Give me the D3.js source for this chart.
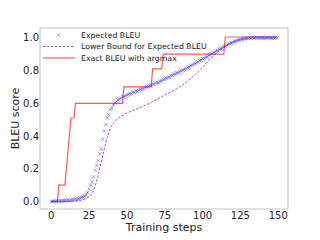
<!DOCTYPE html>
<html><head><meta charset="utf-8">
<script src="https://cdn.jsdelivr.net/npm/d3@7"></script>
<style>body{margin:0;background:#fff}svg{display:block}text{font-family:"DejaVu Sans",sans-serif;fill:#222}</style>
</head><body>
<svg id="c" width="320" height="240"></svg>
<script>
// Expected BLEU, one value per training step 0..149
const expectedBleu = [
0.000,0.000,0.002,0.000,0.003,0.001,0.004,0.002,0.005,0.004,
0.006,0.008,0.006,0.009,0.010,0.011,0.014,0.012,0.018,0.020,
0.024,0.028,0.032,0.040,0.055,0.075,0.100,0.120,0.150,0.190,
0.220,0.250,0.290,0.320,0.380,0.430,0.470,0.510,0.530,0.560,
0.570,0.590,0.600,0.610,0.620,0.625,0.630,0.640,0.640,0.645,
0.650,0.655,0.660,0.658,0.667,0.668,0.675,0.672,0.683,0.684,
0.690,0.688,0.698,0.700,0.703,0.710,0.708,0.718,0.716,0.724,
0.728,0.727,0.736,0.737,0.746,0.748,0.752,0.758,0.760,0.770,
0.770,0.778,0.779,0.786,0.788,0.795,0.798,0.803,0.808,0.811,
0.820,0.822,0.830,0.833,0.840,0.843,0.850,0.852,0.862,0.864,
0.872,0.874,0.882,0.884,0.893,0.896,0.902,0.908,0.912,0.920,
0.922,0.930,0.935,0.938,0.946,0.948,0.955,0.958,0.964,0.968,
0.972,0.977,0.979,0.985,0.986,0.990,0.991,0.995,0.994,0.998,
0.997,1.001,0.998,1.002,0.999,1.000,1.003,0.998,1.001,0.999,
1.002,0.998,1.000,1.002,0.999,1.001,0.998,1.002,1.000,0.999
];
// Lower bound for expected BLEU
const lbSteps = [0,5,10,15,20,22,24,26,27,28,29,30,31,32,33,34,35,36,37,38,39,40,42,44,46,48,50,55,60,65,70,75,80,85,90,95,100,105,110,115,120,125,130,135,140,145,149];
const lbValues = [0,0,0,0.002,0.008,0.013,0.022,0.035,0.05,0.07,0.095,0.125,0.16,0.2,0.24,0.28,0.32,0.355,0.39,0.42,0.445,0.465,0.49,0.507,0.52,0.53,0.54,0.56,0.58,0.60,0.625,0.65,0.675,0.70,0.735,0.775,0.82,0.87,0.915,0.95,0.975,0.99,0.997,1.0,1.0,1.0,1.0];
// Exact BLEU with argmax
const exactSteps = [0,4,5,9,13,15,16,47,48,66,67,73,74,114,115,149];
const exactValues = [0,0,0.1,0.1,0.51,0.51,0.6,0.6,0.7,0.7,0.81,0.81,0.9,0.9,1.005,1.005];
const xTicks = [0,25,50,75,100,125,150];
const yTicks = [0.0,0.2,0.4,0.6,0.8,1.0];
const legendLabels = ["Expected BLEU","Lower Bound for Expected BLEU","Exact BLEU with argmax"];

const svg = d3.select("#c");
const L=40,T=28,R=288,B=209;
const x = d3.scaleLinear().domain([-7.45,156.45]).range([L,R]);
const y = d3.scaleLinear().domain([-0.046,1.06]).range([B,T]);

const g = svg.append("g");
// lower bound
g.append("path").datum(lbSteps.map((s,i)=>[s,lbValues[i]]))
 .attr("d", d3.line().x(d=>x(d[0])).y(d=>y(d[1])).curve(d3.curveMonotoneX))
 .attr("fill","none").attr("stroke","#a030c8").attr("stroke-opacity",0.85)
 .attr("stroke-width",1).attr("stroke-dasharray","2.5,1.5");
// exact
g.append("path").datum(exactSteps.map((s,i)=>[s,exactValues[i]]))
 .attr("d", d3.line().x(d=>x(d[0])).y(d=>y(d[1])))
 .attr("fill","none").attr("stroke","#ff0000").attr("stroke-opacity",0.65)
 .attr("stroke-width",1.2);
// expected markers
const xm = (px,py,s)=>`M${px-s},${py-s}L${px+s},${py+s}M${px-s},${py+s}L${px+s},${py-s}`;
g.append("path")
 .attr("d", expectedBleu.map((v,i)=>xm(x(i),y(v),1.8)).join(""))
 .attr("fill","none").attr("stroke","#2a2aff").attr("stroke-opacity",0.5).attr("stroke-width",0.9);

// frame
svg.append("rect").attr("x",L).attr("y",T).attr("width",R-L).attr("height",B-T)
 .attr("fill","none").attr("stroke","#c0c0c0").attr("stroke-width",1);

// ticks
svg.append("g").selectAll("text").data(xTicks).join("text")
 .attr("x",d=>x(d)).attr("y",219).attr("text-anchor","middle").attr("font-size",10).text(d=>d);
svg.append("g").selectAll("text").data(yTicks).join("text")
 .attr("x",39).attr("y",d=>y(d)+3.6).attr("text-anchor","end").attr("font-size",10).text(d=>d.toFixed(1));

svg.append("text").attr("x",(L+R)/2).attr("y",231).attr("text-anchor","middle").attr("font-size",11).text("Training steps");
svg.append("text").attr("transform",`translate(19,118.5) rotate(-90)`).attr("text-anchor","middle").attr("font-size",11).text("BLEU score");

// legend
const ly=[35,46.5,58];
svg.append("path").attr("d",xm(58.5,ly[0],1.8)).attr("fill","none").attr("stroke","#2a2aff").attr("stroke-opacity",0.5).attr("stroke-width",0.9);
svg.append("line").attr("x1",43).attr("x2",75).attr("y1",ly[1]).attr("y2",ly[1]).attr("stroke","#a030c8").attr("stroke-opacity",0.85).attr("stroke-dasharray","2.5,1.5");
svg.append("line").attr("x1",43).attr("x2",75).attr("y1",ly[2]).attr("y2",ly[2]).attr("stroke","#ff0000").attr("stroke-opacity",0.65).attr("stroke-width",1.2);
svg.append("g").selectAll("text").data(legendLabels).join("text")
 .attr("x",81).attr("y",(d,i)=>ly[i]+2.8).attr("font-size",7.8).text(d=>d);
</script>
</body></html>
